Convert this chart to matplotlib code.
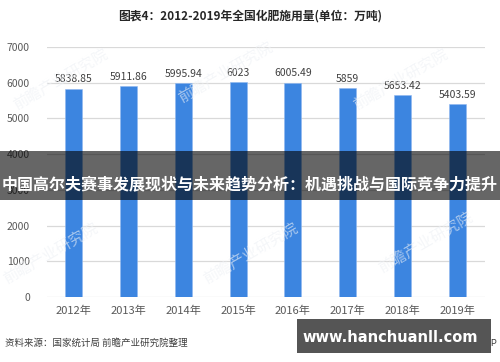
import matplotlib
matplotlib.use("Agg")
from matplotlib import pyplot as plt
from matplotlib.patches import Rectangle

plt.rcParams['font.family'] = ['Noto Sans CJK SC', 'DejaVu Sans']

# data
years = ["2012年", "2013年", "2014年", "2015年", "2016年", "2017年", "2018年", "2019年"]
usage = [5838.85, 5911.86, 5995.94, 6023, 6005.49, 5859, 5653.42, 5403.59]
usage_labels = ["5838.85", "5911.86", "5995.94", "6023", "6005.49", "5859", "5653.42", "5403.59"]
yticks = [0, 1000, 2000, 3000, 4000, 5000, 6000, 7000]

title = "图表4：2012-2019年全国化肥施用量(单位：万吨)"
banner = "中国高尔夫赛事发展现状与未来趋势分析：机遇挑战与国际竞争力提升"
source = "资料来源：国家统计局 前瞻产业研究院整理"
site = "www.hanchuanll.com"

fig = plt.figure(figsize=(5, 3.62), dpi=100)
ax = fig.add_axes([0.093, 0.1796, 0.876, 0.6904])

x = list(range(len(years)))
bars = ax.bar(x, usage, width=0.31, color="#3c85e0", edgecolor="#8fb8f0", linewidth=0.4, zorder=3)

for xi, v, lab in zip(x, usage, usage_labels):
    ax.annotate(lab, (xi, v), xytext=(0, 3), textcoords="offset points",
                ha="center", va="bottom", fontsize=7.5, color="#404040")

ax.set_xlim(-0.5, len(years) - 0.5)
ax.set_ylim(0, 7000)
ax.set_yticks(yticks)
ax.set_yticklabels([str(t) for t in yticks], fontsize=7.5, color="#595959")
ax.set_xticks(x)
ax.set_xticklabels(years, fontsize=8, color="#595959")
ax.tick_params(length=0, pad=6)
ax.tick_params(axis="y", pad=12)
ax.grid(axis="y", color="#d9d9d9", linewidth=0.9, zorder=0)
for s in ax.spines.values():
    s.set_visible(False)

# faint watermarks
for wx, wy in [(0.12, 0.78), (0.45, 0.8), (0.8, 0.78), (0.1, 0.3), (0.5, 0.3), (0.85, 0.33)]:
    fig.text(wx, wy, "前瞻产业研究院", fontsize=11, color="#eef1f5", rotation=30,
             ha="center", va="center", zorder=0.5, alpha=0.6)

fig.text(0.5, 0.955, title, ha="center", va="center", fontsize=8.5,
         fontweight="bold", color="#262626")

# dark banner across the middle
fig.patches.append(Rectangle((0, 1 - 200 / 362), 1, 49 / 362, transform=fig.transFigure,
                             facecolor="black", alpha=0.6, zorder=5))
fig.text(0.5, 1 - 184 / 362, banner, ha="center", va="center", fontsize=11.5,
         fontweight="bold", color="white", zorder=6)

fig.text(0.01, 1 - 343 / 362, source, ha="left", va="center", fontsize=6.8, color="#404040")
fig.text(0.995, 1 - 343 / 362, "@前瞻经济学人APP", ha="right", va="center",
         fontsize=6.8, color="#404040")

# site box bottom right
fig.patches.append(Rectangle((297 / 500, 1 - 353 / 362), 194 / 500, 34 / 362,
                             transform=fig.transFigure, facecolor="#555555", zorder=7))
fig.text(390 / 500, 1 - 337 / 362, site, ha="center", va="center", fontsize=10.5,
         fontweight="bold", color="white", family=["DejaVu Sans"], zorder=8)

fig.savefig("out.png", dpi=100)
